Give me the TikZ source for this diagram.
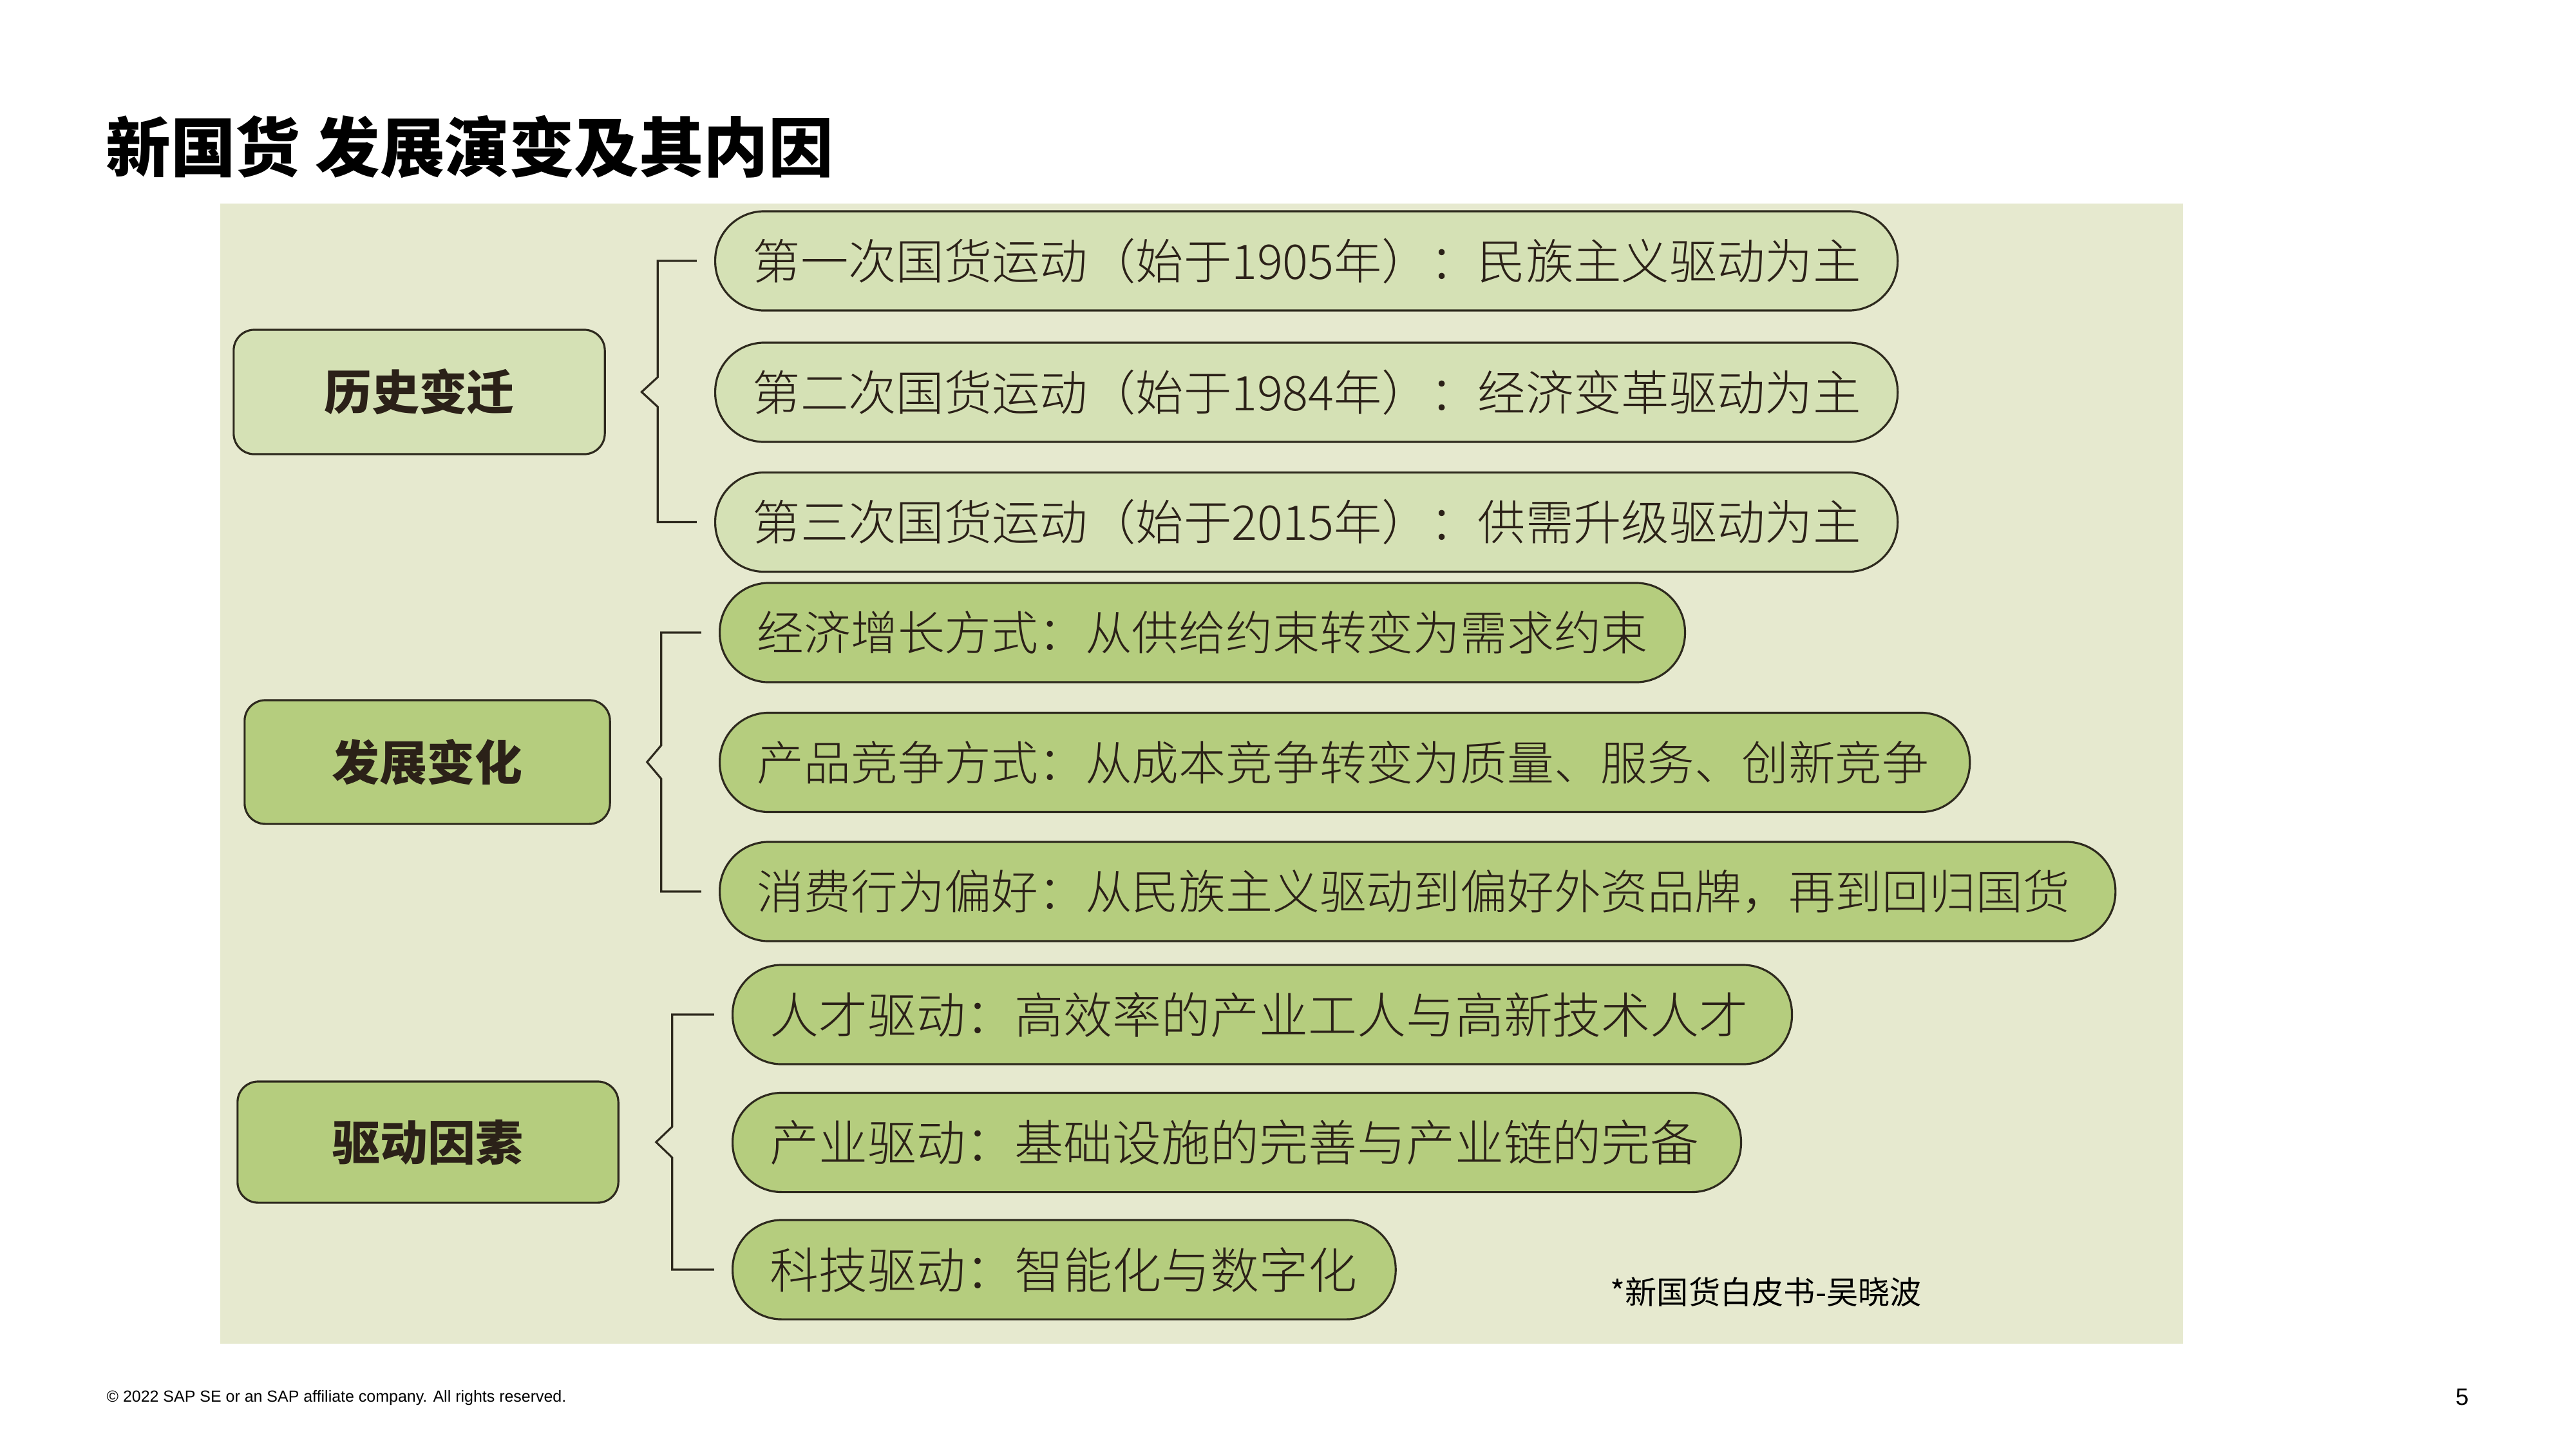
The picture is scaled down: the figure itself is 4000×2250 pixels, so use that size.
\documentclass[tikz,border=0pt]{standalone}
\usepackage{fontspec}
\setmainfont{Noto Sans CJK SC}
\IfFontExistsTF{Noto Sans CJK SC Light}
  {\newfontfamily\pillfont{Noto Sans CJK SC Light}}
  {\newfontfamily\pillfont{Noto Sans CJK SC}}
\newfontfamily\latinsans{Liberation Sans}
\usetikzlibrary{calc}
\definecolor{panelbg}{HTML}{E6E9CF}
\definecolor{lightg}{HTML}{D5E1B5}
\definecolor{darkg}{HTML}{B5CD7E}
\definecolor{edgec}{HTML}{2E2A1E}
\definecolor{txtc}{HTML}{2B2118}
\tikzset{
  catbox/.style={draw=edgec, line width=0.9pt, rounded corners=0.32cm, inner sep=0pt,
    font=\fontsize{21pt}{25pt}\selectfont\bfseries, text=txtc},
  pill/.style={draw=edgec, line width=0.9pt, rounded corners=0.76cm, anchor=west,
    minimum height=1.54cm, inner xsep=0.58cm, inner ysep=0pt, align=left,
    font=\pillfont\fontsize{21.15pt}{25pt}\selectfont, text=txtc},
  pillb/.style={pill, font=\pillfont\fontsize{20.7pt}{25pt}\selectfont},
  pillc/.style={pill, font=\pillfont\fontsize{21.6pt}{25pt}\selectfont},
  brk/.style={draw=edgec, line width=0.9pt}
}
\begin{document}
\begin{tikzpicture}[x=0.01cm,y=-0.01cm]
\useasboundingbox (0,0) rectangle (4000,2250);
\fill[white] (0,0) rectangle (4000,2250);
% title
\node[anchor=west, inner sep=0pt, font=\fontsize{28.6pt}{32pt}\selectfont\bfseries] (title) at (164,228) {新国货 发展演变及其内因};
% panel
\fill[panelbg] (342,316) rectangle (3390,2086);
% category boxes
\node[catbox, fill=lightg, minimum width=5.76cm, minimum height=1.93cm] (b1) at (651,608.5) {历史变迁};
\node[catbox, fill=darkg, minimum width=5.67cm, minimum height=1.92cm] (b2) at (663.5,1183) {发展变化};
\node[catbox, fill=darkg, minimum width=5.91cm, minimum height=1.88cm] (b3) at (664.5,1773) {驱动因素};
% group 1
\node[pill, fill=lightg, text width=17.19cm] (p11) at (1109,405) {第一次国货运动（始于1905年）：民族主义驱动为主};
\node[pill, fill=lightg, text width=17.19cm] (p12) at (1109,609) {第二次国货运动（始于1984年）：经济变革驱动为主};
\node[pill, fill=lightg, text width=17.19cm] (p13) at (1109,810.5) {第三次国货运动（始于2015年）：供需升级驱动为主};
% group 2
\node[pillb, fill=darkg, text width=13.82cm] (p21) at (1116,982) {经济增长方式：从供给约束转变为需求约束};
\node[pillb, fill=darkg, text width=18.24cm] (p22) at (1116,1183.5) {产品竞争方式：从成本竞争转变为质量、服务、创新竞争};
\node[pillb, fill=darkg, text width=20.50cm] (p23) at (1116,1384) {消费行为偏好：从民族主义驱动到偏好外资品牌，再到回归国货};
% group 3
\node[pillc, fill=darkg, text width=15.28cm] (p31) at (1136,1575) {人才驱动：高效率的产业工人与高新技术人才};
\node[pillc, fill=darkg, text width=14.49cm] (p32) at (1136,1773.5) {产业驱动：基础设施的完善与产业链的完备};
\node[pillc, fill=darkg, text width=9.13cm] (p33) at (1136,1971) {科技驱动：智能化与数字化};
% brackets
\coordinate (n1) at ([xshift=0.555cm]b1.east);
\coordinate (n2) at ([xshift=0.56cm]b2.east);
\coordinate (n3) at ([xshift=0.57cm]b3.east);
\draw[brk] ([xshift=-0.27cm]p11.west) -| ([xshift=0.25cm,yshift=0.23cm]n1) -- (n1) -- ([xshift=0.25cm,yshift=-0.23cm]n1) |- ([xshift=-0.27cm]p13.west);
\draw[brk] ([xshift=-0.27cm]p21.west) -| ([xshift=0.22cm,yshift=0.26cm]n2) -- (n2) -- ([xshift=0.22cm,yshift=-0.26cm]n2) |- ([xshift=-0.27cm]p23.west);
\draw[brk] ([xshift=-0.27cm]p31.west) -| ([xshift=0.25cm,yshift=0.24cm]n3) -- (n3) -- ([xshift=0.25cm,yshift=-0.24cm]n3) |- ([xshift=-0.27cm]p33.west);
% source note
\node[anchor=west, inner sep=0pt, font=\fontsize{14pt}{16pt}\selectfont] (src) at (2500,2006) {*新国货白皮书-吴晓波};
% footer
\node[anchor=west, inner sep=0pt, font=\latinsans\fontsize{7.1pt}{8pt}\selectfont] (foot) at (165,2170) {© 2022 SAP SE or an SAP affiliate company. All rights reserved.};
\node[inner sep=0pt, font=\latinsans\fontsize{10.5pt}{12pt}\selectfont] (pg) at (3823,2169) {5};
\end{tikzpicture}
\end{document}
